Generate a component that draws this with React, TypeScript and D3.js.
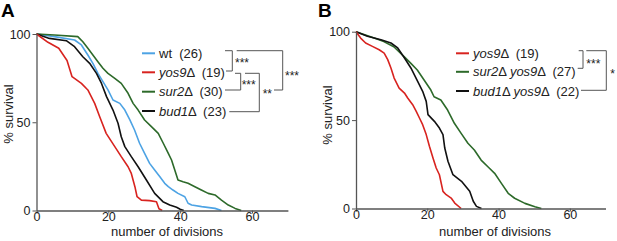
import React, { useEffect, useRef } from "react";
import * as d3 from "d3";

type Pt = [number, number];

// Panel A: survival (%) vs number of divisions
const wtA: Pt[] = [[0,100],[5,98.5],[10.6,96.6],[12.5,93.8],[14.3,88.1],[15.7,83.4],[17.1,77.7],[18.5,73],[19.9,68.3],[21.3,62.6],[23.2,60.7],[24.6,56.9],[26,51.3],[27.3,45.6],[28.7,38.1],[30.1,32.4],[31.5,26.7],[32.9,22.9],[34.3,19.2],[35.7,15.4],[36.7,13.5],[38,11.6],[39.4,9.7],[41.3,7.8],[42.2,4.1],[43.2,3.1],[46,2.2],[49.7,1.2],[51.5,0]];
const yos9A: Pt[] = [[0,100],[3.2,95.3],[6.2,91.9],[8.5,85],[9.9,75.8],[12.5,72],[14.3,68.3],[16.2,60.7],[17.6,53.1],[19.4,43.7],[21.8,36.2],[23.6,30.5],[25.5,24.8],[26.4,21],[27.4,13.5],[28,7.8],[29.2,5.9],[31.5,5.6],[33.4,5],[34.1,1],[35,0]];
const sur2A: Pt[] = [[0,100],[5,99.4],[11.5,98.5],[12.9,95.6],[14.3,91.9],[15.7,88.1],[17.1,84.3],[18.5,80.6],[19.9,77.7],[21.8,74.9],[23.6,72],[25.5,66.4],[26.9,60.7],[28.3,56.9],[30.1,51.3],[32,47.5],[33.9,43.7],[35.3,38.1],[36.7,32.4],[37.6,28.6],[38.5,22.9],[39.4,17.3],[40.8,16.3],[42.2,15.4],[44.1,13.5],[45.9,11.6],[47.8,9.7],[49.7,8.8],[51.5,5.9],[53.4,3.1],[55.3,1.2],[57,0]];
const bud1A: Pt[] = [[0,100],[3.6,97.5],[8.3,96.2],[10.6,92.8],[12.9,87.1],[14.8,83.4],[16.7,77.7],[18.1,72],[19.5,64.5],[21.3,56.9],[22.7,49.4],[23.6,41.8],[24.6,36.2],[26.4,30.5],[28.3,24.8],[30.6,17.3],[32.9,9.7],[35.2,5],[37.1,3.1],[39,1.8],[40,0.7],[41,0]];

// Panel B
const yos9B: Pt[] = [[0,100],[1.3,96.4],[2.7,93.6],[4.6,91.7],[6.5,89.8],[7.9,87.9],[8.9,84.2],[9.8,79.5],[10.7,73.8],[12.1,68.1],[13.6,65.3],[14.5,62.5],[15.9,58.7],[16.9,54.9],[17.8,51.2],[18.7,47.4],[19.7,41.8],[20.6,35.2],[21.6,28.6],[22.5,22.9],[23.4,19.1],[24.4,9.7],[25.3,7.8],[26.7,5.9],[27.7,3.1],[29.5,0]];
const sur2yos9B: Pt[] = [[0,100],[5.1,96.4],[7.8,94.4],[10.6,91.5],[13.5,85.9],[15.4,82.1],[17.2,78.3],[19.1,72.7],[21,67],[21.9,63.2],[23.8,61.4],[25.7,55.7],[27.6,48.2],[29.5,42.5],[31.4,36.9],[33.2,33.1],[35.1,27.4],[37,23.6],[38.9,19.9],[40.8,14.2],[42.7,8.6],[44.5,5.8],[47.4,2.9],[50.2,1],[52,0]];
const bud1yos9B: Pt[] = [[0,100],[3.2,97.4],[7,95.5],[9.8,93.6],[11.7,90.8],[13.6,85.1],[15.4,79.5],[17.3,71.9],[18.7,66.3],[19.7,60.6],[20.2,53.1],[22,49.3],[23.4,45.5],[24.4,41.8],[24.9,34.2],[25.8,26.7],[27.2,19.1],[29.6,15.4],[31.9,9.7],[32.9,4.1],[33.8,1.2],[35.2,0]];

const xTicks = [0, 20, 40, 60];
const yTicks = [0, 50, 100];

// legend: [italic part, upright part, italic part 2, n]
const legendA: [string, string, string, string][] = [
  ["", "wt", "", "26"],
  ["yos9", "\u0394", "", "19"],
  ["sur2", "\u0394", "", "30"],
  ["bud1", "\u0394", "", "23"],
];
const legendB: [string, string, string, string][] = [
  ["yos9", "\u0394", "", "19"],
  ["sur2", "\u0394 ", "yos9", "27"],
  ["bud1", "\u0394 ", "yos9", "22"],
];

const RED = "#d8231f";
const BLUE = "#4da3e4";
const GREEN = "#2d6a2a";
const BLACK = "#111";
const AXIS = "#555";
const FONT = "'Liberation Sans', Arial, Helvetica, sans-serif";

export default function App() {
  const ref = useRef<SVGSVGElement>(null);

  useEffect(() => {
    const svg = d3.select(ref.current);
    svg.selectAll("*").remove();

    const panels = [
      {
        letter: "A", lx: 1, xr: [36.5, 287.9], yr: [210.5, 34],
        series: [[wtA, BLUE], [yos9A, RED], [sur2A, GREEN], [bud1A, BLACK]] as [Pt[], string][],
        order: [0, 2, 3, 1],
        ytitleX: 12.5, ytitleY: 114, xtitleX: 167, legend: legendA,
        legendColors: [BLUE, RED, GREEN, BLACK], swX: 142, txX: 159, rows: [53.3, 72.3, 91.7, 111],
      },
      {
        letter: "B", lx: 318, xr: [356, 605.5], yr: [208.5, 31.7],
        series: [[yos9B, RED], [sur2yos9B, GREEN], [bud1yos9B, BLACK]] as [Pt[], string][],
        order: [1, 2, 0],
        ytitleX: 332, ytitleY: 115, xtitleX: 495, legend: legendB,
        legendColors: [RED, GREEN, BLACK], swX: 456, txX: 473, rows: [53.3, 71.8, 91],
      },
    ];

    panels.forEach((p) => {
      const g = svg.append("g");
      const x = d3.scaleLinear().domain([0, 70]).range(p.xr);
      const y = d3.scaleLinear().domain([0, 100]).range(p.yr);

      g.append("text").attr("x", p.lx).attr("y", 17).attr("font-family", FONT)
        .attr("font-weight", "bold").attr("font-size", 19).text(p.letter);

      const line = d3.line<Pt>().x((d) => x(d[0])).y((d) => y(d[1]));
      p.order.forEach((i) => {
        const [data, color] = p.series[i];
        g.append("path").attr("d", line(data)).attr("fill", "none")
          .attr("stroke", color).attr("stroke-width", 1.6).attr("stroke-linejoin", "round");
      });

      const xa = g.append("g").attr("transform", `translate(0,${p.yr[0]})`)
        .call(d3.axisBottom(x).tickValues(xTicks).tickSize(3).tickSizeOuter(0).tickPadding(2));
      const ya = g.append("g").attr("transform", `translate(${p.xr[0]},0)`)
        .call(d3.axisLeft(y).tickValues(yTicks).tickSize(4).tickSizeOuter(0).tickPadding(2));
      [xa, ya].forEach((a) => {
        a.select(".domain").attr("stroke", AXIS).attr("stroke-width", 1.3);
        a.selectAll(".tick line").attr("stroke", AXIS);
        a.selectAll("text").attr("font-family", FONT).attr("font-size", 12.5).attr("fill", "#222");
      });
      xa.selectAll("text").attr("y", 2);

      g.append("text").attr("x", p.xtitleX).attr("y", 236).attr("text-anchor", "middle")
        .attr("font-family", FONT).attr("font-size", 13).attr("fill", "#222").text("number of divisions");
      g.append("text").attr("transform", `translate(${p.ytitleX},${p.ytitleY}) rotate(-90)`)
        .attr("text-anchor", "middle").attr("font-family", FONT).attr("font-size", 13)
        .attr("fill", "#222").text("% survival");

      p.legend.forEach((l, i) => {
        const cy = p.rows[i];
        g.append("line").attr("x1", p.swX).attr("x2", p.swX + 13).attr("y1", cy).attr("y2", cy)
          .attr("stroke", p.legendColors[i]).attr("stroke-width", 2);
        const t = g.append("text").attr("x", p.txX).attr("y", cy + 4.6)
          .attr("font-family", FONT).attr("font-size", 13).attr("fill", "#222")
          .style("white-space", "pre");
        if (l[0]) t.append("tspan").attr("font-style", "italic").text(l[0]);
        t.append("tspan").text(l[1]);
        if (l[2]) {
          t.append("tspan").attr("font-style", "italic").text(l[2]);
          t.append("tspan").text("\u0394");
        }
        t.append("tspan").text(`  (${l[3]})`);
      });
    });

    // significance brackets (layout)
    const br = svg.append("g").attr("fill", "none").attr("stroke", AXIS).attr("stroke-width", 1);
    const segs: [number, number, number, number][] = [
      // A: wt vs yos9
      [225, 50.7, 232.3, 50.7], [232.3, 50.7, 232.3, 71], [226, 71, 232.3, 71],
      // A: wt vs sur2
      [236.7, 50.7, 282.7, 50.7], [282.7, 50.7, 282.7, 90], [274, 90, 282.7, 90],
      // A: yos9 vs sur2
      [235, 73.3, 240.7, 73.3], [240.7, 73.3, 240.7, 90], [225, 90, 240.7, 90],
      // A: yos9 vs bud1
      [245, 73.3, 259.3, 73.3], [259.3, 73.3, 259.3, 111.7], [229.3, 111.7, 259.3, 111.7],
      // B
      [578.7, 50.7, 583, 50.7], [583, 50.7, 583, 68.3], [577.7, 68.3, 583, 68.3],
      [586.3, 50.7, 606.3, 50.7], [606.3, 50.7, 606.3, 90.3], [581, 90.3, 606.3, 90.3],
    ];
    segs.forEach((s) => br.append("line").attr("x1", s[0]).attr("y1", s[1]).attr("x2", s[2]).attr("y2", s[3]));

    const stars: [number, number, string][] = [
      [235, 67, "***"], [241.7, 88.5, "***"], [262.7, 97.8, "**"], [285, 80, "***"],
      [586.3, 68, "***"], [610.3, 78, "*"],
    ];
    stars.forEach((s) => svg.append("text").attr("x", s[0]).attr("y", s[1]).attr("font-family", FONT)
      .attr("font-size", 12).attr("fill", "#222").text(s[2]));
  }, []);

  return (
    <svg ref={ref} width={617} height={241}
      style={{ position: "absolute", left: 0, top: 0, background: "#fff" }} />
  );
}
